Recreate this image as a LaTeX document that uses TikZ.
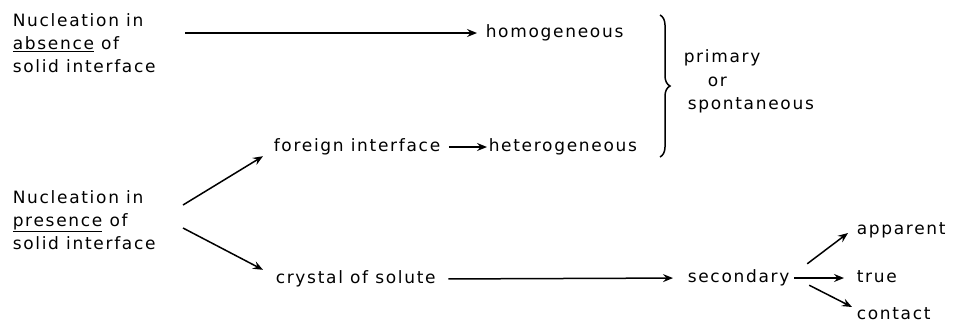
\documentclass[tikz,border=0pt]{standalone}
\usepackage{fontspec}
\setmainfont{DejaVu Sans}[LetterSpace=10]
\usetikzlibrary{arrows.meta,decorations.pathreplacing}

\begin{document}
\begin{tikzpicture}[x=1pt,y=-1pt,line width=1.5pt,
  blk/.style={anchor=west,inner sep=0pt,align=left,font=\fontsize{17}{23}\selectfont},
  lbl/.style={anchor=west,inner sep=0pt,text height=12.9pt,text depth=4pt,font=\fontsize{17}{23}\selectfont},
  arr/.style={-{Stealth[length=10pt,width=8pt,inset=3.5pt]}},
  brc/.style={decorate,decoration={brace,amplitude=10pt}}]
\useasboundingbox (0,0) rectangle (954,325);

\node[blk] (nabs) at (12,43) {Nucleation in\\\underline{absence} of\\solid interface};
\node[blk] (npres) at (12,220) {Nucleation in\\\underline{presence} of\\solid interface};

\node[lbl] (homog) at (485,33) {homogeneous};
\node[lbl] (foreign) at (273,147) {foreign interface};
\node[lbl] (hetero) at (488,147) {heterogeneous};
\node[lbl] (crystal) at (275,279) {crystal of solute};
\node[lbl] (second) at (687,278) {secondary};
\node[lbl] (appar) at (856,230) {apparent};
\node[lbl] (truen) at (856,278) {true};
\node[lbl] (cont) at (856,315) {contact};

\node[lbl] (prim) at (683,58) {primary};
\node[lbl] (ornode) at (707,82) {or};
\node[lbl] (spont) at (687,105) {spontaneous};

\coordinate (s1) at (185,33);
\coordinate (up1) at (183,205);
\coordinate (dn1) at (183,228);
\coordinate (bt) at (660,15);
\coordinate (bb) at (660,157);

\draw[arr,shorten >=8pt] (s1) -- (homog.west);
\draw[arr,shorten <=8pt,shorten >=1pt] (foreign.east) -- (hetero.west);
\draw[arr] (up1) -- ([xshift=-10pt]foreign.south west);
\draw[arr] (dn1) -- ([xshift=-12pt]crystal.north west);
\draw[arr,shorten <=12pt,shorten >=14pt] (crystal.east) -- (second.west);
\draw[arr,shorten <=4pt,shorten >=12pt] (second.east) -- (truen.west);
\draw[arr] ([shift={(17,-5)}]second.north east) -- ([shift={(-8,3)}]appar.west);
\draw[arr] ([shift={(19,-2)}]second.south east) -- ([shift={(-4,-8)}]cont.west);

\draw[brc] (bt) -- (bb);

\end{tikzpicture}
\end{document}
